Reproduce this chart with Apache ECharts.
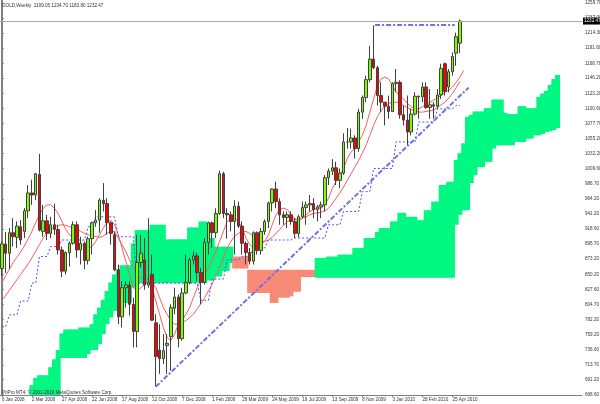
<!DOCTYPE html>
<html><head><meta charset="utf-8">
<script src="https://cdn.jsdelivr.net/npm/echarts@6/dist/echarts.min.js"></script>
<style>html,body{margin:0;padding:0;background:#fff}#c{width:600px;height:404px}</style>
</head><body><div id="c"></div>
<script>
// ---- weekly OHLC (index 0 = week of 6 Jan 2008) ----
const opens = [859,896,882,913,906,922,915,946,973,970,1001,915,931,912,925,918,887,855,883,897,925,887,897,871,904,928,932,962,957,928,910,857,786,830,834,805,764,868,872,834,850,777,736,723,743,756,799,816,753,822,838,872,878,853,838,898,928,913,942,1002,942,940,930,953,923,897,883,870,913,886,915,930,958,979,960,940,936,940,930,912,937,951,955,957,948,952,955,996,1006,1011,992,1003,1050,1050,1056,1040,1095,1117,1144,1175,1162,1120,1110,1104,1096,1138,1140,1091,1083,1065,1092,1119,1118,1133,1102,1106,1104,1121,1168,1133,1156,1184,1199.05];
const highs = [900,914,920,935,930,932,950,985,993,1003,1032,955,940,937,957,925,892,885,900,930,930,907,900,907,930,947,965,988,965,930,915,865,840,840,840,815,910,910,905,935,880,790,775,760,760,805,830,820,830,880,875,885,883,860,905,930,930,950,1007,1005,950,945,962,960,930,900,890,915,915,920,933,960,980,990,965,945,945,945,935,940,960,960,970,965,955,960,1000,1010,1024,1020,1010,1063,1071,1070,1060,1100,1120,1150,1195,1226,1165,1140,1110,1120,1140,1160,1143,1105,1120,1100,1125,1120,1140,1140,1130,1110,1130,1168,1170,1160,1185,1215,1234.70];
const lows = [847,852,858,892,890,895,905,935,955,962,915,907,902,905,910,880,846,850,862,895,875,865,858,865,880,922,913,945,910,895,855,775,770,800,788,740,740,860,827,830,780,681,700,715,700,705,790,740,750,820,835,865,840,805,835,880,890,905,940,935,904,915,880,920,880,865,865,865,880,880,910,920,945,950,925,925,920,925,905,906,935,925,945,935,930,935,945,985,1000,985,980,1000,1040,1040,1025,1035,1085,1110,1140,1160,1105,1095,1075,1085,1095,1125,1085,1075,1045,1060,1090,1085,1110,1100,1085,1085,1100,1115,1120,1125,1150,1165,1183.80];
const closes = [896,882,913,907,923,902,946,973,970,1002,917,931,912,925,918,887,855,883,897,925,887,897,871,904,928,932,962,957,928,912,857,786,830,834,805,764,868,882,834,838,781,726,723,735,746,800,816,753,822,838,872,878,853,838,898,928,913,942,1002,942,940,930,953,923,897,883,870,913,886,915,930,958,979,960,940,936,940,930,912,937,951,955,957,948,952,955,996,1006,1011,992,1003,1050,1050,1056,1040,1095,1117,1144,1175,1162,1120,1110,1104,1096,1138,1140,1091,1083,1065,1092,1119,1118,1133,1102,1106,1104,1121,1161,1126,1156,1179,1209,1232.47];

// ---- indicator lines ----
const redFast = [837,848,858,868,876,884,893,904,915,928,940,950,955,955,950,942,930,918,910,905,900,895,893,890,892,900,910,920,928,932,925,910,890,870,850,830,825,830,835,840,830,810,790,770,755,750,760,775,780,790,800,815,830,840,850,860,870,885,900,915,930,935,935,930,920,905,895,890,892,895,900,910,925,940,948,950,948,940,935,930,935,940,945,948,950,950,955,965,980,990,1000,1010,1025,1035,1040,1050,1060,1075,1095,1115,1135,1145,1148,1145,1135,1125,1120,1115,1108,1103,1100,1100,1103,1107,1110,1113,1117,1120,1125,1128,1133,1140,1148,1158];
const redSlow = [811,818,826,834,842,850,858,866,875,885,895,905,912,918,922,924,925,924,922,920,918,915,912,910,908,907,906,908,912,915,915,905,895,885,872,860,850,845,845,842,838,830,815,800,790,780,775,775,778,780,785,790,798,806,815,825,835,848,860,875,890,900,908,912,915,915,912,908,903,900,900,902,906,912,918,924,930,932,933,933,935,937,940,942,943,944,946,950,957,965,973,982,992,1002,1012,1022,1033,1045,1060,1075,1088,1097,1104,1108,1110,1110,1108,1105,1102,1099,1097,1095,1095,1096,1097,1098,1102,1106,1110,1116,1123,1132,1141];
const blueDot = [771,771,789,789,789,810,810,810,837,837,877,877,877,892,892,892,902,902,902,902,902,902,902,922,922,937,937,937,937,937,937,907,907,907,907,907,837,837,837,837,837,837,837,837,837,837,837,837,837,837,837,837,837,811,811,811,843,843,843,843,872,872,872,872,877,877,877,890,890,890,890,902,902,902,902,902,902,902,905,905,905,905,905,905,905,905,905,925,925,925,925,945,945,945,945,945,975,975,975,1010,1010,1010,1010,1010,1010,1050,1050,1050,1050,1050,1050,1080,1080,1080,1080,1080,1100,1100,1100,1100,1100,1105,1105];

// ---- Ichimoku cloud spans (index 0..148) ----
const spanA = [null,null,null,null,null,null,null,null,683,694,698,698,698,710,722,736,761,767,767,767,767,770,770,770,775,790,800,812,825,838,850,858,864,864,864,897,917,917,917,917,925,925,925,925,903,903,903,903,903,903,921,921,921,930,930,905,905,892,892,892,892,892,859,859,859,859,822,822,822,822,822,822,807,807,815,815,815,817,824,824,846,846,846,846,875,875,875,877,877,877,880,880,880,880,890,890,890,905,905,905,914,920,920,920,930,930,943,943,937,937,937,932,932,947,947,960,960,985,985,990,990,1023,1033,1048,1088,1091,1096,1096,1096,1101,1101,1114,1114,1114,1094,1092,1092,1092,1104,1104,1101,1101,1101,1118,1123,1127,1136,1145,1151];
const spanB = [null,null,null,null,null,null,null,null,660,660,660,660,660,662,665,665,724,724,724,724,724,724,724,730,736,736,745,760,775,785,795,800,807,807,807,830,837,837,837,837,837,837,837,837,837,837,837,837,837,837,837,837,837,837,837,841,841,847,847,855,855,867,877,877,877,877,857,857,857,857,857,857,857,857,857,857,857,857,857,857,857,857,857,857,845,845,845,845,845,845,845,845,845,845,845,845,845,845,845,845,845,845,845,845,845,845,845,845,845,845,845,845,845,845,845,845,845,845,845,845,845,925,940,947,947,988,1000,1012,1012,1020,1020,1040,1045,1045,1045,1045,1045,1050,1050,1050,1055,1055,1060,1060,1062,1065,1066,1068,1071];

// ---- trend lines (week index, price) ----
const trendUp = [[41, 680.7], [124.3, 1132]];
const trendTop = [[99.4, 1226.5], [120.6, 1226.5]];

// ---- axis labels ----
const yTicks = [1259.70,1237.00,1214.30,1191.60,1168.70,1146.20,1123.20,1100.60,1077.70,1055.20,1032.20,1009.60,986.70,964.20,941.20,918.60,895.70,873.20,850.20,827.60,804.70,782.20,759.20,736.60,713.70,691.20,668.60];
const xTickLabels = ['6 Jan 2008','2 Mar 2008','27 Apr 2008','22 Jun 2008','17 Aug 2008','12 Oct 2008','7 Dec 2008','1 Feb 2009','29 Mar 2009','24 May 2009','19 Jul 2009','13 Sep 2009','8 Nov 2009','3 Jan 2010','28 Feb 2010','25 Apr 2010'];
const titleText = 'GOLD,Weekly  1199.05 1234.70 1183.80 1232.47';
const copyText = 'PriPro MT4, \u00a9 2001-2010 MetaQuotes Software Corp.';

const N = 155;
const cats = [];
for (let i = 0; i < N; i++) cats.push('w' + i);
const labelIdx = {};
xTickLabels.forEach((t, k) => { labelIdx[k * 8] = t; });

const candle = opens.map((o, i) => [o, closes[i], lows[i], highs[i]]);
const cloudBase = spanA.map((a, i) => (a == null ? '-' : Math.min(a, spanB[i])));
const cloudFill = spanA.map((a, i) => a == null ? '-' : {
  value: Math.abs(a - spanB[i]),
  itemStyle: { color: a >= spanB[i] ? '#00F882' : '#F88A78' }
});

const FONT = "'Liberation Sans', sans-serif";
const FS = 4.6;
const chart = echarts.init(document.getElementById('c'));
chart.setOption({
  animation: false,
  backgroundColor: '#fff',
  title: [
    { text: titleText, left: 2, top: 3, padding: 0, textStyle: { fontSize: FS, fontWeight: 'normal', color: '#333', fontFamily: FONT } },
    { text: copyText, left: 2, top: 390, padding: 0, textStyle: { fontSize: FS, fontWeight: 'normal', color: '#333', fontFamily: FONT } }
  ],
  grid: { left: 0, right: 18, top: 0, bottom: 9, outerBoundsMode: 'none', containLabel: false },
  xAxis: [
    { type: 'category', data: cats, boundaryGap: true,
      axisLine: { lineStyle: { color: '#808080' } },
      axisTick: { show: true, length: 2, interval: (i) => labelIdx[i] !== undefined, alignWithLabel: true, lineStyle: { color: '#808080' } },
      axisLabel: { interval: (i) => labelIdx[i] !== undefined, formatter: (v, i) => labelIdx[i] || '', align: 'left', fontSize: FS, margin: 2, color: '#333', fontFamily: FONT, hideOverlap: false },
      splitLine: { show: false } },
    { type: 'value', min: -0.5, max: N - 0.5, show: false }
  ],
  yAxis: [
    { type: 'value', position: 'right', min: 668.1, max: 1264.2,
      axisLine: { show: true, lineStyle: { color: '#808080' } },
      axisTick: { show: true, length: 2, customValues: yTicks, lineStyle: { color: '#808080' } },
      axisLabel: { customValues: yTicks, formatter: (v) => v.toFixed(2), fontSize: FS, margin: 3, color: '#333', fontFamily: FONT },
      splitLine: { show: false } },
    { type: 'value', position: 'left', min: 668.1, max: 1264.2, offset: -1,
      axisLine: { show: true, lineStyle: { color: '#808080' } },
      axisTick: { show: false }, axisLabel: { show: false }, splitLine: { show: false } }
  ],
  series: [
    { type: 'bar', stack: 'cloud', data: cloudBase, barWidth: 5, itemStyle: { color: 'transparent' }, silent: true, z: 1 },
    { type: 'bar', stack: 'cloud', data: cloudFill, barWidth: 5, silent: true, z: 1 },
    { type: 'line', data: redSlow, symbol: 'none', lineStyle: { color: '#F06060', width: 1 }, z: 3 },
    { type: 'line', data: redFast, symbol: 'none', lineStyle: { color: '#F06060', width: 1 }, z: 3 },
    { type: 'line', data: blueDot, symbol: 'none', lineStyle: { color: '#5050F0', width: 1, type: [2, 2] }, z: 3 },
    { type: 'candlestick', data: candle, barWidth: 3, z: 4,
      itemStyle: { color: '#7CFC00', color0: '#FF0000', borderColor: '#404040', borderColor0: '#404040', borderWidth: 1 },
      markLine: { silent: true, symbol: 'none', data: [{ yAxis: closes[closes.length - 1] }],
        lineStyle: { color: '#A8A8A8', type: 'solid', width: 1 },
        label: { position: 'end', formatter: closes[closes.length - 1].toFixed(2), backgroundColor: '#000', color: '#fff', fontSize: FS, padding: [1, 1], distance: 1, fontFamily: FONT } } },
    { type: 'line', xAxisIndex: 1, data: trendUp, symbol: 'none', lineStyle: { color: '#6F6FF0', width: 2, type: [5, 2, 2, 2] }, z: 5 },
    { type: 'line', xAxisIndex: 1, data: trendTop, symbol: 'none', lineStyle: { color: '#6F6FF0', width: 2, type: [5, 2, 2, 2] }, z: 5 }
  ]
});
</script></body></html>
